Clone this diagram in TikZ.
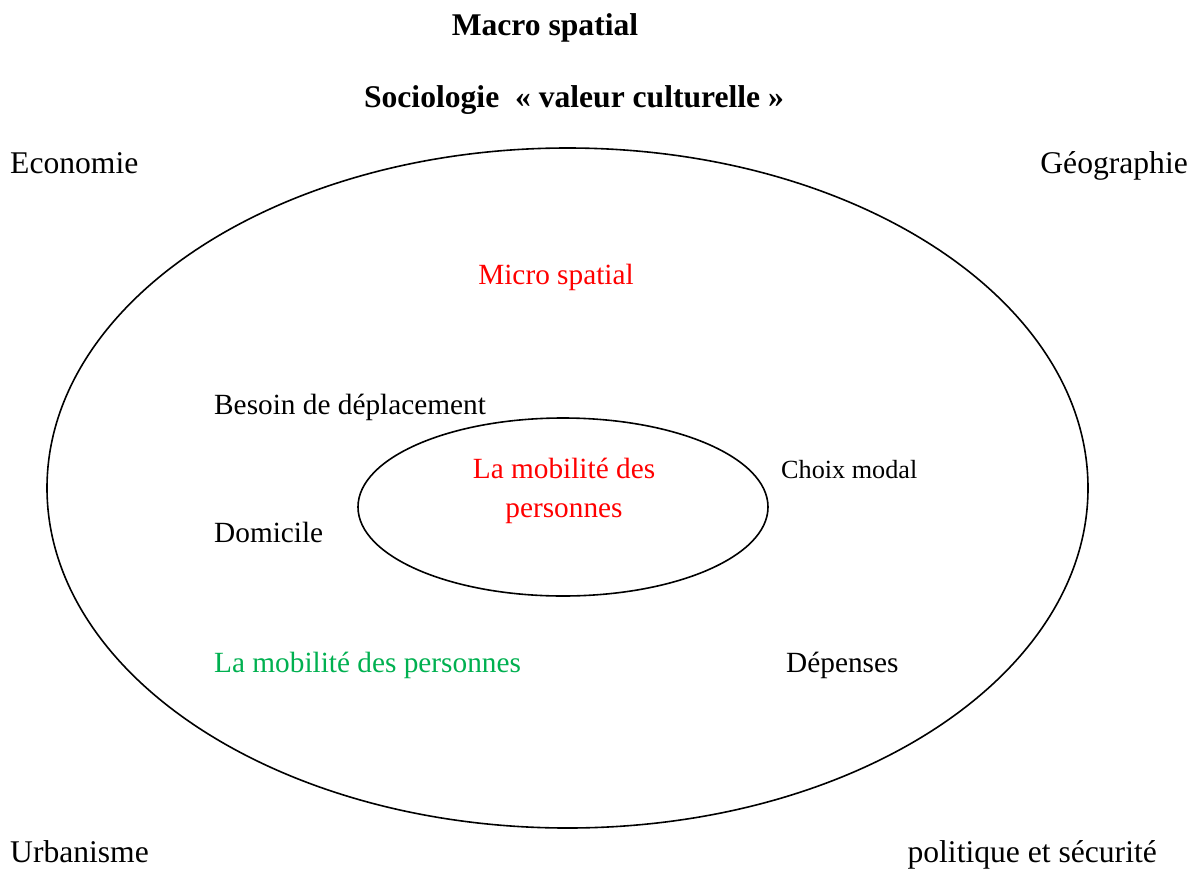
\documentclass[tikz,border=0pt]{standalone}
\usepackage{fontspec}
\setmainfont{Liberation Serif}
\definecolor{mygreen}{HTML}{00B050}
\begin{document}
\begin{tikzpicture}[x=1pt,y=-1pt,
  lbl/.style={inner sep=0pt, font=\fontsize{31.6}{38}\selectfont},
  mid/.style={inner sep=0pt, font=\fontsize{29.3}{35}\selectfont},
  small/.style={inner sep=0pt, font=\fontsize{26.2}{31}\selectfont},
  ttl/.style={inner sep=0pt, font=\fontsize{31.6}{38}\selectfont\bfseries},
  ring/.style={draw=black, line width=1.6pt}]
\useasboundingbox (0,0) rectangle (1197,868);
\draw[ring] (567.5,488) ellipse [x radius=520.5, y radius=340];
\draw[ring] (563,507) ellipse [x radius=205, y radius=89];
\node[ttl, anchor=base] (macro) at (545,35) {Macro spatial};
\node[ttl, anchor=base] (socio) at (574,107) {Sociologie \ «~valeur culturelle~»};
\node[lbl, anchor=base west] (eco) at (10,173) {Economie};
\node[lbl, anchor=base east] (geo) at (1188,173) {Géographie};
\node[mid, anchor=base, text=red] (micro) at (556,284) {Micro spatial};
\node[mid, anchor=base west] (besoin) at (214,414) {Besoin de déplacement};
\node[mid, anchor=base, text=red] (mob1) at (564,478) {La mobilité des};
\node[mid, anchor=base, text=red] (mob2) at (564,517) {personnes};
\node[small, anchor=base west] (choix) at (781,478) {Choix modal};
\node[mid, anchor=base west] (dom) at (214,542) {Domicile};
\node[mid, anchor=base west, text=mygreen] (mobg) at (214,672) {La mobilité des personnes};
\node[mid, anchor=base west] (dep) at (786,672) {Dépenses};
\node[lbl, anchor=base west] (urb) at (10,862) {Urbanisme};
\node[lbl, anchor=base east] (pol) at (1157,862) {politique et sécurité};
\end{tikzpicture}
\end{document}
